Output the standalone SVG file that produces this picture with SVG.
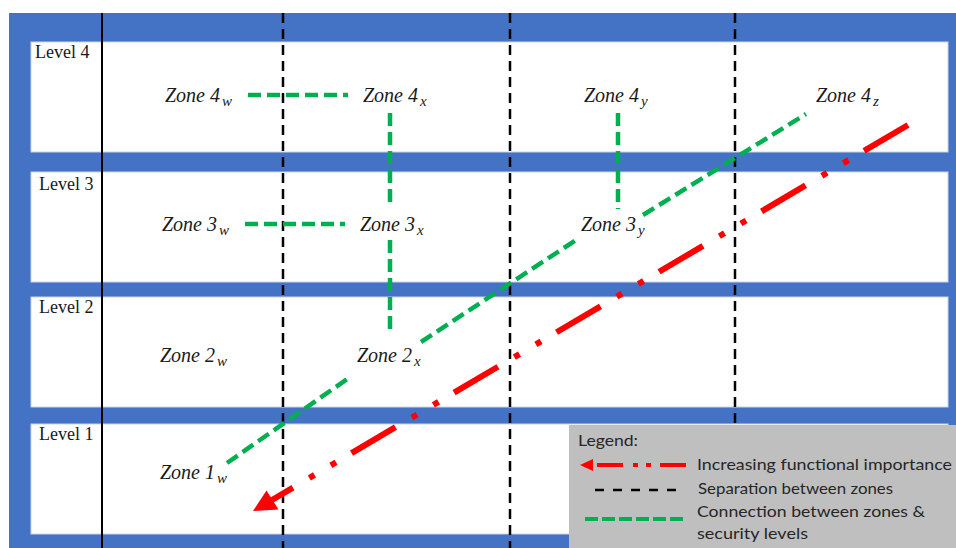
<svg xmlns="http://www.w3.org/2000/svg" width="956" height="548" viewBox="0 0 956 548">
  <style>
    .band { fill: #ffffff; stroke: #c9d3e6; stroke-width: 1; }
    .level { font-family: "Liberation Serif", serif; font-size: 18px; fill: #1a1a1a; }
    .zone { font-family: "Liberation Serif", "DejaVu Serif", serif; font-style: italic; font-size: 20px; fill: #1a1a1a; }
    .sub { font-size: 15px; }
    .sep { stroke: #000000; stroke-width: 2.5; stroke-dasharray: 10 6; fill: none; }
    .link { stroke: #00b050; stroke-width: 4.5; stroke-dasharray: 13 6; fill: none; }
    .flow { stroke: #ff0000; stroke-width: 6; fill: none; }
    .legend-text { font-family: Lato, "Open Sans", sans-serif; font-size: 16px; fill: #262626; }
  </style>

  <!-- background frame -->
  <rect x="9" y="13" width="947" height="535" fill="#4472c4"/>

  <!-- level bands -->
  <g id="level-4">
    <rect class="band" x="31" y="42" width="917" height="110"/>
    <text class="level" x="35" y="58">Level 4</text>
  </g>
  <g id="level-3">
    <rect class="band" x="31" y="172" width="917" height="110"/>
    <text class="level" x="39" y="190">Level 3</text>
  </g>
  <g id="level-2">
    <rect class="band" x="31" y="297" width="917" height="110"/>
    <text class="level" x="39" y="313">Level 2</text>
  </g>
  <g id="level-1">
    <rect class="band" x="31" y="424" width="917" height="110"/>
    <text class="level" x="39" y="440">Level 1</text>
  </g>

  <!-- zone separators -->
  <g id="separators">
    <line x1="102" y1="13" x2="102" y2="548" stroke="#000" stroke-width="2"/>
    <line class="sep" x1="283" y1="13" x2="283" y2="548"/>
    <line class="sep" x1="510" y1="13" x2="510" y2="548"/>
    <line class="sep" x1="735" y1="13" x2="735" y2="548"/>
  </g>

  <!-- connectors -->
  <g id="connectors">
    <line class="link" x1="248" y1="95" x2="348" y2="95"/>
    <line class="link" x1="245" y1="224" x2="345" y2="224"/>
    <line class="link" x1="390" y1="113" x2="390" y2="207"/>
    <line class="link" x1="390" y1="240" x2="390" y2="330"/>
    <line class="link" x1="618" y1="113" x2="618" y2="209"/>
    <line class="link" x1="227" y1="463" x2="350" y2="377"/>
    <line class="link" x1="421" y1="342" x2="576" y2="240"/>
    <line class="link" x1="643" y1="215" x2="806" y2="114"/>
    <!-- functional importance arrow -->
    <path class="flow" d="M908,125 L272,500" stroke-dasharray="51 18 6 19 6 19"/>
    <polygon points="253,511 266.5,490.5 278.5,509.5" fill="#ff0000"/>
  </g>

  <!-- zones -->
  <g id="zone-4w"><text class="zone" x="165" y="102">Zone 4<tspan class="sub" dx="2" dy="4">w</tspan></text></g>
  <g id="zone-4x"><text class="zone" x="363" y="102">Zone 4<tspan class="sub" dx="2" dy="4">x</tspan></text></g>
  <g id="zone-4y"><text class="zone" x="584" y="102">Zone 4<tspan class="sub" dx="2" dy="4">y</tspan></text></g>
  <g id="zone-4z"><text class="zone" x="816" y="102">Zone 4<tspan class="sub" dx="2" dy="4">z</tspan></text></g>
  <g id="zone-3w"><text class="zone" x="162" y="231">Zone 3<tspan class="sub" dx="2" dy="4">w</tspan></text></g>
  <g id="zone-3x"><text class="zone" x="360" y="231">Zone 3<tspan class="sub" dx="2" dy="4">x</tspan></text></g>
  <g id="zone-3y"><text class="zone" x="581" y="231">Zone 3<tspan class="sub" dx="2" dy="4">y</tspan></text></g>
  <g id="zone-2w"><text class="zone" x="160" y="362">Zone 2<tspan class="sub" dx="2" dy="4">w</tspan></text></g>
  <g id="zone-2x"><text class="zone" x="357" y="362">Zone 2<tspan class="sub" dx="2" dy="4">x</tspan></text></g>
  <g id="zone-1w"><text class="zone" x="160" y="479">Zone 1<tspan class="sub" dx="2" dy="4">w</tspan></text></g>

  <!-- legend -->
  <g id="legend">
    <rect x="569" y="425" width="387" height="123" fill="#bfbfbf"/>
    <text class="legend-text" x="578" y="446" textLength="60" lengthAdjust="spacingAndGlyphs">Legend:</text>
    <polygon points="580,465 593,459 593,471" fill="#ff0000"/>
    <line x1="597" y1="465" x2="623" y2="465" stroke="#ff0000" stroke-width="4"/>
    <line x1="633" y1="465" x2="638" y2="465" stroke="#ff0000" stroke-width="4"/>
    <line x1="646" y1="465" x2="651" y2="465" stroke="#ff0000" stroke-width="4"/>
    <line x1="660" y1="465" x2="686" y2="465" stroke="#ff0000" stroke-width="4"/>
    <text class="legend-text" x="697" y="470" textLength="255" lengthAdjust="spacingAndGlyphs">Increasing functional importance</text>
    <line x1="595" y1="490" x2="678" y2="490" stroke="#000" stroke-width="2.5" stroke-dasharray="9 9"/>
    <text class="legend-text" x="698" y="494" textLength="195" lengthAdjust="spacingAndGlyphs">Separation between zones</text>
    <line x1="585" y1="519" x2="683" y2="519" stroke="#00b050" stroke-width="4" stroke-dasharray="13 4"/>
    <text class="legend-text" x="697" y="517" textLength="228" lengthAdjust="spacingAndGlyphs">Connection between zones &amp;</text>
    <text class="legend-text" x="697" y="539" textLength="111" lengthAdjust="spacingAndGlyphs">security levels</text>
  </g>
</svg>
